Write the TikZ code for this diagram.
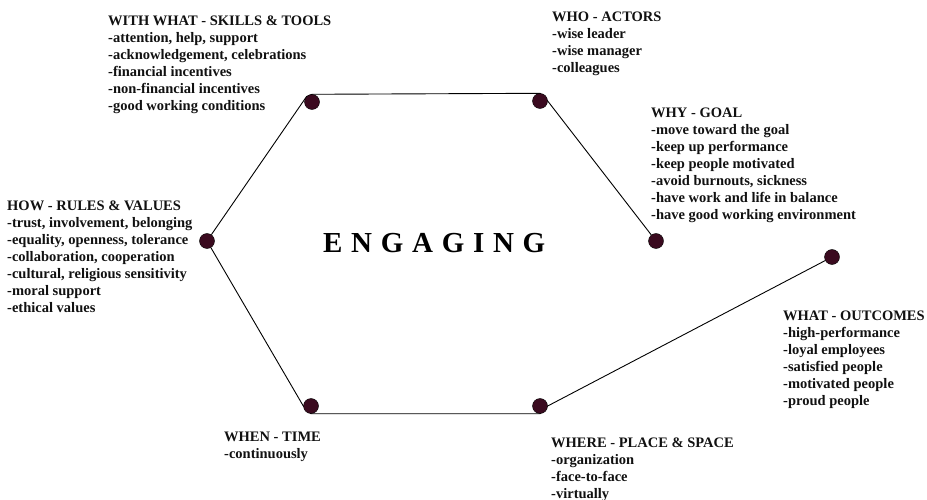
\documentclass[tikz,border=0pt]{standalone}
\usepackage{fontspec}
\setmainfont{Liberation Serif}
\usepackage{xcolor}
\usepackage{tikz}
\usetikzlibrary{positioning, backgrounds}
\definecolor{dotfill}{HTML}{3A0A1F}
\definecolor{darkgray}{HTML}{111111}
\tikzset{
  spot/.style={
    circle, draw=black, fill=dotfill,
    minimum size=15pt, inner sep=0pt,
  },
  textblock/.style={
    anchor=north west, align=left, inner sep=0pt,
    font=\fontsize{14.5}{17}\selectfont\bfseries, text=darkgray,
  },
  edge/.style={line width=0.9pt, color=black},
}

\begin{document}
\begin{tikzpicture}[x=1pt, y=-1pt]

  \useasboundingbox (0,0) rectangle (927,500);

  % the dots
  \node[spot] (withwhat) at (312,102) {};
  \node[spot] (who)      at (540,101) {};
  \node[spot] (why)      at (656,241) {};
  \node[spot] (what)     at (832,257) {};
  \node[spot] (where)    at (540,406) {};
  \node[spot] (when)     at (311,406) {};
  \node[spot] (how)      at (207,241) {};

  % the outline
  \begin{pgfonlayer}{background}
    \draw[edge] (how) -- (withwhat.north west) -- (withwhat.north) -- (who.north) -- (who.east) -- (why);
    \draw[edge] (what) -- (where.east) -- (where.south) -- (when.south) -- (when.west) -- (how);
  \end{pgfonlayer}

  % centre word
  \node[anchor=west, inner sep=0pt, font=\fontsize{29}{32}\selectfont\bfseries\addfontfeature{LetterSpace=30}] (engaging) at (323,243) {ENGAGING};

  % the texts
  \node[textblock] (withwhattext) at (108,16) {WITH WHAT - SKILLS \& TOOLS\\-attention, help, support\\-acknowledgement, celebrations\\-financial incentives\\-non-financial incentives\\-good working conditions};
  \node[textblock] (whotext) at (552,12) {WHO - ACTORS\\-wise leader\\-wise manager\\-colleagues};
  \node[textblock] (whytext) at (651,108) {WHY - GOAL\\-move toward the goal\\-keep up performance\\-keep people motivated\\-avoid burnouts, sickness\\-have work and life in balance\\-have good working environment};
  \node[textblock] (howtext) at (7,201) {HOW - RULES \& VALUES\\-trust, involvement, belonging\\-equality, openness, tolerance\\-collaboration, cooperation\\-cultural, religious sensitivity\\-moral support\\-ethical values};
  \node[textblock] (whentext) at (224,432) {WHEN - TIME\\-continuously};
  \node[textblock] (wheretext) at (551,438) {WHERE - PLACE \& SPACE\\-organization\\-face-to-face\\-virtually};
  \node[textblock] (whattext) at (783,311) {WHAT - OUTCOMES\\-high-performance\\-loyal employees\\-satisfied people\\-motivated people\\-proud people};

\end{tikzpicture}
\end{document}
